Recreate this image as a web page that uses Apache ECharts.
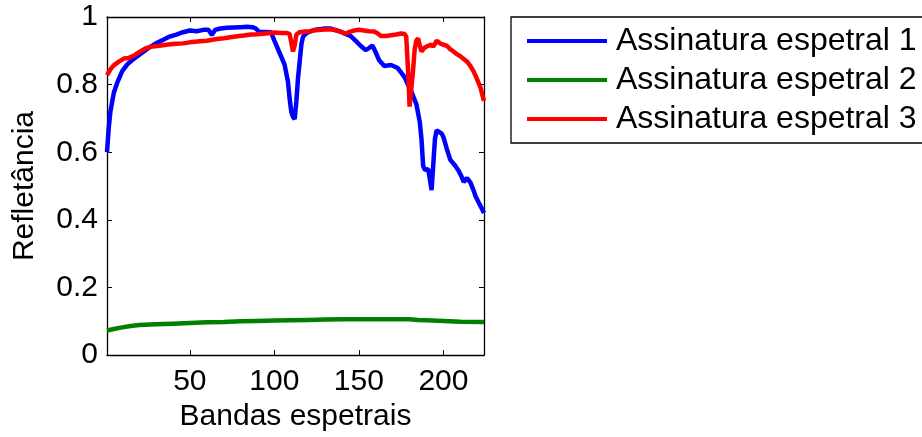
<!DOCTYPE html>
<html>
<head>
<meta charset="utf-8">
<script src="https://cdn.jsdelivr.net/npm/echarts@6/dist/echarts.min.js"></script>
<style>
  html, body { margin: 0; padding: 0; background: #fff; }
  #chart { width: 922px; height: 437px; }
</style>
</head>
<body>
<div id="chart"></div>
<script>
// nomes das séries (legenda)
var seriesNames = ['Assinatura espetral 1', 'Assinatura espetral 2', 'Assinatura espetral 3'];
var xTicks = [50, 100, 150, 200];

// assinatura 1 (azul)
var bands1 = [1, 2, 3, 5, 7, 10, 13, 16, 19, 22, 26, 30, 34, 38, 42, 46, 50, 54, 58, 61, 63, 65, 68, 72, 76, 80, 84, 87, 89, 91, 95, 98,
  100, 103, 106, 108, 109, 110, 111, 112, 113, 114, 115, 116, 117, 119, 121, 124, 127, 130, 133, 136, 139, 142, 145, 148, 151, 154,
  156, 158, 160, 162, 165, 169, 173, 177, 179, 181, 184, 186, 187, 188, 189, 190, 191, 192, 193, 194, 195, 196, 197, 199, 200, 202,
  204, 206, 207, 209, 211, 212, 214, 215, 216, 218, 219, 221, 222, 224];
var refl1 = [0.60, 0.67, 0.72, 0.775, 0.805, 0.84, 0.86, 0.873, 0.884, 0.895, 0.91, 0.922, 0.932, 0.942, 0.948, 0.955, 0.96, 0.958, 0.962, 0.962, 0.947, 0.962, 0.966, 0.968, 0.969, 0.970, 0.971, 0.970, 0.966, 0.956, 0.956, 0.955,
  0.93, 0.895, 0.86, 0.81, 0.76, 0.72, 0.705, 0.698, 0.75, 0.82, 0.87, 0.92, 0.942, 0.952, 0.957, 0.962, 0.964, 0.966, 0.966, 0.962, 0.957, 0.95, 0.944, 0.93, 0.915, 0.902,
  0.908, 0.916, 0.895, 0.872, 0.855, 0.858, 0.849, 0.822, 0.80, 0.78, 0.742, 0.69, 0.64, 0.56, 0.548, 0.548, 0.55, 0.52, 0.488, 0.487, 0.64, 0.665, 0.667, 0.655, 0.645, 0.61,
  0.578, 0.566, 0.56, 0.545, 0.525, 0.512, 0.524, 0.522, 0.51, 0.485, 0.47, 0.45, 0.44, 0.42];

// assinatura 2 (verde)
var bands2 = [1, 5, 10, 15, 20, 30, 40, 50, 60, 70, 80, 90, 100, 110, 120, 130, 140, 150, 160, 170, 180, 185, 190, 200, 210, 224];
var refl2 = [0.073, 0.077, 0.082, 0.086, 0.089, 0.091, 0.093, 0.095, 0.097, 0.098, 0.1, 0.101, 0.102, 0.103, 0.104, 0.105, 0.106, 0.106, 0.106, 0.106, 0.106, 0.104, 0.103, 0.101, 0.099, 0.098];

// assinatura 3 (vermelho)
var bands3 = [1, 3, 5, 8, 11, 14, 17, 20, 24, 28, 32, 36, 40, 46, 50, 56, 60, 66, 70, 74, 78, 82, 86, 90, 95, 100, 104, 107, 109, 110, 111, 112, 113, 115,
  118, 121, 124, 128, 132, 135, 138, 140, 142, 144, 147, 150, 153, 156, 159, 161, 163, 166, 169, 172, 175, 177, 178, 179, 180, 181, 182, 183, 184, 185,
  186, 187, 189, 191, 193, 194, 196, 198, 200, 202, 204, 206, 208, 210, 212, 214, 216, 218, 220, 222, 223, 224];
var refl3 = [0.828, 0.845, 0.857, 0.868, 0.877, 0.879, 0.886, 0.896, 0.908, 0.913, 0.915, 0.918, 0.92, 0.922, 0.925, 0.928, 0.93, 0.935, 0.937, 0.94, 0.943, 0.945, 0.948, 0.949, 0.951, 0.954, 0.953, 0.953, 0.950, 0.925, 0.898, 0.915, 0.948, 0.955,
  0.957, 0.958, 0.961, 0.962, 0.964, 0.962, 0.958, 0.955, 0.951, 0.955, 0.96, 0.962, 0.96, 0.958, 0.957, 0.952, 0.944, 0.944, 0.946, 0.948, 0.951, 0.95, 0.942, 0.85, 0.735, 0.74, 0.84, 0.905, 0.93, 0.937,
  0.915, 0.898, 0.91, 0.915, 0.918, 0.912, 0.93, 0.922, 0.918, 0.915, 0.905, 0.898, 0.89, 0.884, 0.876, 0.868, 0.855, 0.838, 0.815, 0.79, 0.77, 0.752];

function pares(bands, vals) {
  var out = [];
  for (var i = 0; i < bands.length; i++) out.push([bands[i], vals[i]]);
  return out;
}

var fonte = 'Liberation Sans, Arial, sans-serif';
var chart = echarts.init(document.getElementById('chart'), null, { renderer: 'canvas' });

var eixoX = {
  type: 'value', min: 1, max: 224,
  axisLine: { show: true, onZero: false, lineStyle: { color: '#000', width: 1.3 } },
  splitLine: { show: false },
  axisTick: { show: true, inside: true, length: 5, customValues: xTicks, lineStyle: { color: '#000' } }
};
var eixoY = {
  type: 'value', min: 0, max: 1, interval: 0.2,
  axisLine: { show: true, onZero: false, lineStyle: { color: '#000', width: 1.3 } },
  splitLine: { show: false },
  axisTick: { show: true, inside: true, length: 5, lineStyle: { color: '#000' } }
};

var option = {
  animation: false,
  backgroundColor: '#fff',
  grid: { left: 107, right: 438, top: 17, bottom: 81 },
  legend: {
    orient: 'vertical',
    left: 511, top: 17,
    data: seriesNames,
    icon: 'rect',
    itemWidth: 80, itemHeight: 4, itemGap: 3,
    padding: [6, 14, 6, 16],
    borderColor: '#000', borderWidth: 1.3,
    textStyle: { fontFamily: fonte, fontSize: 32, color: '#000', lineHeight: 36, padding: [0, 0, 0, 4] }
  },
  xAxis: [
    Object.assign({}, eixoX, {
      position: 'bottom',
      name: 'Bandas espetrais', nameLocation: 'middle', nameGap: 46,
      nameTextStyle: { fontFamily: fonte, fontSize: 30, color: '#000' },
      axisLabel: { show: true, customValues: xTicks, margin: 12, fontFamily: fonte, fontSize: 30, color: '#000' }
    }),
    Object.assign({}, eixoX, { position: 'top', axisLabel: { show: false } })
  ],
  yAxis: [
    Object.assign({}, eixoY, {
      position: 'left',
      name: 'Refletância', nameLocation: 'middle', nameGap: 67,
      nameTextStyle: { fontFamily: fonte, fontSize: 30, color: '#000' },
      axisLabel: { show: true, margin: 9, fontFamily: fonte, fontSize: 30, color: '#000',
        formatter: function (v) { return String(Math.round(v * 10) / 10); } }
    }),
    Object.assign({}, eixoY, { position: 'right', axisLabel: { show: false } })
  ],
  series: [
    { name: seriesNames[0], type: 'line', data: pares(bands1, refl1), showSymbol: false,
      color: '#0000ff', lineStyle: { width: 4.5, color: '#0000ff' } },
    { name: seriesNames[1], type: 'line', data: pares(bands2, refl2), showSymbol: false,
      color: '#008000', lineStyle: { width: 4.5, color: '#008000' } },
    { name: seriesNames[2], type: 'line', data: pares(bands3, refl3), showSymbol: false,
      color: '#ff0000', lineStyle: { width: 4.5, color: '#ff0000' } }
  ]
};
chart.setOption(option);
</script>
</body>
</html>
